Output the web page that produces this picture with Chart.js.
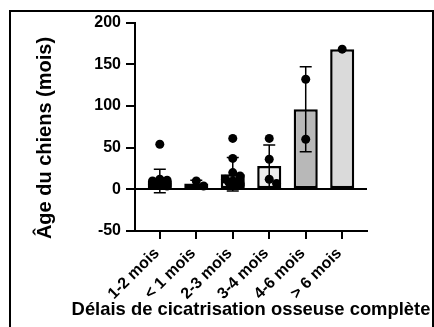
<!DOCTYPE html>
<html>
<head>
<meta charset="utf-8">
<script src="https://cdn.jsdelivr.net/npm/chart.js@4"></script>
<style>
    html, body { margin: 0; padding: 0; background: #fff; }
    #cadre { position: absolute; left: 9px; top: 10px; width: 421px; height: 340px; border: 2px solid #000; }
    #chartDelais { position: absolute; left: 0; top: 0; }
</style>
</head>
<body>
<div id="cadre"></div>
<canvas id="chartDelais" width="434" height="327"></canvas>
<script>
// données
const categories = ['1-2 mois', '< 1 mois', '2-3 mois', '3-4 mois', '4-6 mois', '> 6 mois'];
const moyennes = [10, 7, 18, 28, 96, 168];
const ecartsTypes = [14, 4, 20, 25, 51, 0];
const couleursBarres = ['#ededed', '#ededed', '#ededed', '#ededed', '#b8b8b8', '#dadada'];

const pts12 = [54, 12, 11, 10, 9, 8, 8, 7, 6, 6, 5, 5, 4];
const ptsMoins1 = [10, 4];
const pts23 = [61, 37, 20, 16, 12, 10, 9, 8, 7, 6, 5];
const pts34 = [61, 36, 12, 7];
const pts46 = [132, 60];
const ptsPlus6 = [168];

const groupes = [pts12, ptsMoins1, pts23, pts34, pts46, ptsPlus6];
const yTicks = [-50, 0, 50, 100, 150, 200];

const titreX = 'Délais de cicatrisation osseuse complète';
const titreY = 'Âge du chiens (mois)';

const police = "'Liberation Sans', Arial, sans-serif";

// petit nuage de points à la Prism (décalage déterministe)
function nuage(valeurs, centre) {
    const slots = [0, 0.2, -0.2, 0.1, -0.1];
    const places = [];
    return valeurs.map(v => {
        let choix = 0, minConflits = Infinity;
        for (let s = 0; s < slots.length; s++) {
            const conflits = places.filter(p => p.slot === s && Math.abs(p.v - v) < 9).length;
            if (conflits < minConflits) { minConflits = conflits; choix = s; }
            if (conflits === 0) break;
        }
        places.push({ v, slot: choix });
        return { x: centre + slots[choix], y: v };
    });
}

const pointsData = groupes.flatMap((g, i) => nuage(g, i));

const barresErreur = {
    id: 'barresErreur',
    afterDatasetDraw(chart, args) {
        if (args.meta.type !== 'bar') return;
        const ctx = chart.ctx;
        const x = chart.scales.x, y = chart.scales.y;
        ctx.save();
        ctx.strokeStyle = '#000';
        ctx.lineWidth = 1.5;
        moyennes.forEach((m, i) => {
            const sd = ecartsTypes[i];
            if (!sd) return;
            const px = x.getPixelForValue(i);
            const haut = y.getPixelForValue(m + sd);
            const bas = y.getPixelForValue(m - sd);
            ctx.beginPath();
            ctx.moveTo(px, haut); ctx.lineTo(px, bas);
            ctx.moveTo(px - 6, haut); ctx.lineTo(px + 6, haut);
            ctx.moveTo(px - 6, bas); ctx.lineTo(px + 6, bas);
            ctx.stroke();
        });
        ctx.restore();
    }
};

// titres des axes dessinés à part (le titre d'échelle serait comprimé à la largeur de l'axe)
const titresAxes = {
    id: 'titresAxes',
    afterDraw(chart) {
        const ctx = chart.ctx;
        const area = chart.chartArea;
        ctx.save();
        ctx.fillStyle = '#000';
        ctx.textAlign = 'center';
        ctx.textBaseline = 'alphabetic';
        ctx.font = `bold 18.4px ${police}`;
        ctx.fillText(titreX, (area.left + area.right) / 2, 315);
        ctx.translate(51, 138);
        ctx.rotate(-Math.PI / 2);
        ctx.font = `bold 20px ${police}`;
        ctx.fillText(titreY, 0, 0);
        ctx.restore();
    }
};

new Chart(document.getElementById('chartDelais'), {
    type: 'bar',
    data: {
        datasets: [{
            type: 'scatter',
            data: pointsData,
            backgroundColor: '#000',
            borderWidth: 0,
            pointRadius: 4.5,
            order: 1,
        }, {
            type: 'bar',
            data: moyennes.map((m, i) => ({ x: i, y: m })),
            backgroundColor: couleursBarres,
            borderColor: '#000',
            borderWidth: 2.5,
            borderSkipped: false,
            barPercentage: 0.66,
            categoryPercentage: 1,
            order: 2,
        }],
    },
    options: {
        responsive: false,
        animation: false,
        layout: { padding: { left: 20, top: 22.5, right: 67, bottom: 0 } },
        plugins: { legend: { display: false }, tooltip: { enabled: false } },
        scales: {
            x: {
                type: 'linear',
                offset: false,
                min: -0.68,
                max: 5.68,
                afterBuildTicks: axe => { axe.ticks = categories.map((c, i) => ({ value: i })); },
                afterFit: axe => { axe.height = 96; },
                ticks: {
                    callback: v => categories[v],
                    minRotation: 45,
                    maxRotation: 45,
                    autoSkip: false,
                    padding: 5,
                    labelOffset: -3,
                    color: '#000',
                    font: { family: police, size: 16, weight: 'bold' },
                },
                grid: { offset: false, drawOnChartArea: false, tickLength: 8, tickColor: '#000', lineWidth: 2 },
                border: { color: '#000', width: 2 },
            },
            y: {
                min: -50,
                max: 200,
                afterBuildTicks: axe => { axe.ticks = yTicks.map(v => ({ value: v })); },
                afterFit: axe => { axe.width = 115; },
                ticks: {
                    padding: 5,
                    color: '#000',
                    font: { family: police, size: 16, weight: 'bold' },
                },
                grid: {
                    color: c => (c.tick && c.tick.value === 0 ? '#000' : 'rgba(0,0,0,0)'),
                    tickColor: '#000',
                    tickLength: 9,
                    lineWidth: 2,
                },
                border: { color: '#000', width: 2 },
            },
        },
    },
    plugins: [barresErreur, titresAxes],
});
</script>
</body>
</html>
